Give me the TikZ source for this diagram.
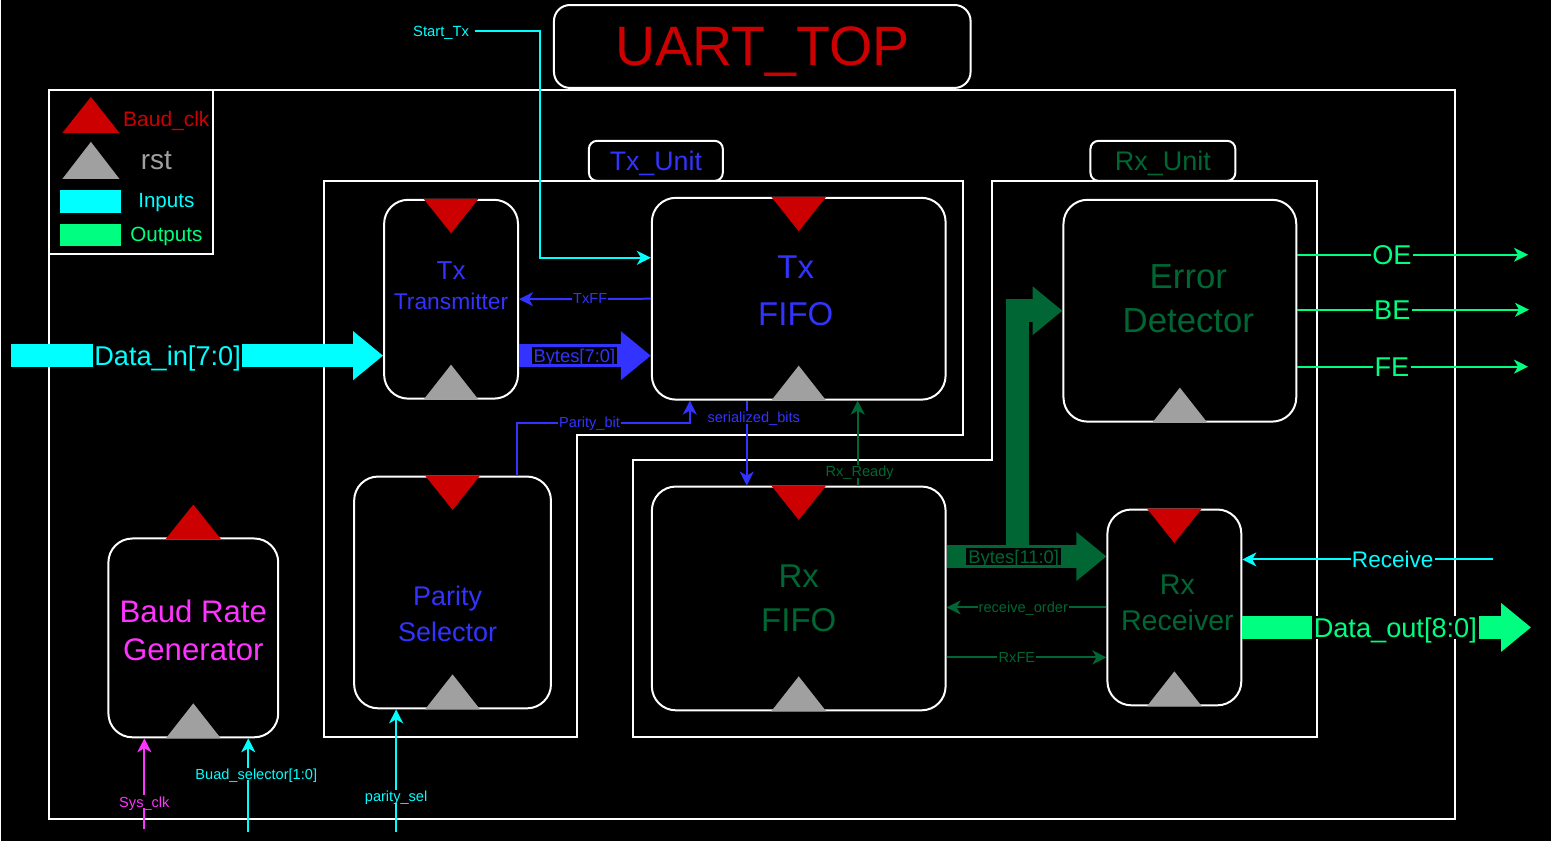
\documentclass[tikz,border=0pt]{standalone}
\usepackage{fontspec}
\setmainfont{Liberation Sans}
\usetikzlibrary{arrows.meta, calc, positioning}
\definecolor{clkred}{RGB}{204,0,0}
\definecolor{rstgrey}{RGB}{160,160,160}
\definecolor{incyan}{RGB}{0,255,255}
\definecolor{outgreen}{RGB}{0,255,128}
\definecolor{txblue}{RGB}{51,51,255}
\definecolor{rxgreen}{RGB}{0,102,51}
\definecolor{sysmag}{RGB}{255,51,255}
\tikzset{
  block/.style={draw=white, line width=1pt, rounded corners=12pt, fill=black, inner sep=0pt},
  tab/.style={draw=white, line width=1pt, rounded corners=4pt, fill=black, inner sep=0pt, minimum height=20pt, text depth=0pt},
  unitbox/.style={draw=white, line width=1pt},
  sig/.style={line width=1pt, -{Stealth[length=7pt, width=7pt, inset=2pt]}},
  bus/.style={line width=11.5pt, line join=miter, -{Triangle[length=15pt, width=23.5pt]}},
  siglbl/.style={fill=black, inner sep=0.6pt, text depth=0pt, font=\fontsize{7.3}{9}\selectfont},
  buslbl/.style={fill=black, inner sep=1pt, text depth=0pt, font=\fontsize{9.2}{11}\selectfont},
  biglbl/.style={fill=black, inner sep=0.8pt, text depth=0pt, font=\fontsize{13.6}{16}\selectfont},
  legtext/.style={text depth=0pt},
}

\begin{document}
\begin{tikzpicture}[x=0.5pt, y=-0.5pt]
    % background and frames
    \fill[black] (0,0) rectangle (1551,842);
    \draw[unitbox] (48,90) rectangle (1455,820);
    \draw[unitbox] (48,90) rectangle (212,254);
    \draw[unitbox] (323,181) -- (962,181) -- (962,435) -- (576,435) -- (576,738) -- (323,738) -- cycle;
    \draw[unitbox] (991,181) -- (1317,181) -- (1317,738) -- (632,738) -- (632,460) -- (991,460) -- cycle;

    % title and unit tabs
    \node (top) [block, rounded corners=8pt, minimum width=208.5pt, minimum height=41.5pt, text depth=0pt, text=clkred, font=\fontsize{27.8}{32}\selectfont] at (761.5,46.5) {UART\_TOP};
    \node (txtab) [tab, minimum width=67pt, text=txblue, font=\fontsize{13.4}{16}\selectfont] at (655,161) {Tx\_Unit};
    \node (rxtab) [tab, minimum width=72.5pt, text=rxgreen, font=\fontsize{13.5}{16}\selectfont] at (1162.5,161) {Rx\_Unit};

    % legend
    \fill[clkred] (61,133) -- (118,133) -- (89.5,97) -- cycle;
    \fill[rstgrey] (61,179) -- (118,179) -- (89.5,142) -- cycle;
    \fill[incyan] (59,190) rectangle (120,213);
    \fill[outgreen] (59,224) rectangle (120,246);
    \node (lgclk) [legtext, text=clkred, font=\fontsize{10.5}{12}\selectfont] at (165,119) {Baud\_clk};
    \node (lgrst) [legtext, text=rstgrey, font=\fontsize{14}{16}\selectfont] at (155,161) {rst};
    \node (lgin) [legtext, text=incyan, font=\fontsize{10.3}{12}\selectfont] at (165,201) {Inputs};
    \node (lgout) [legtext, text=outgreen, font=\fontsize{10.3}{12}\selectfont] at (165,235) {Outputs};

    % blocks
    \node (txm) [block, minimum width=67pt, minimum height=99.5pt] at (450,299.5) {};
    \node (txf) [block, minimum width=147pt, minimum height=101pt] at (798,299) {};
    \node (par) [block, minimum width=98.5pt, minimum height=116pt] at (451.5,593) {};
    \node (brg) [block, minimum width=85pt, minimum height=99.5pt] at (192,638.5) {};
    \node (rxf) [block, minimum width=147pt, minimum height=112pt] at (798,599) {};
    \node (err) [block, minimum width=116.5pt, minimum height=111pt] at (1179.5,311) {};
    \node (rxr) [block, minimum width=67pt, minimum height=98pt] at (1174,608) {};

    % clock and reset marks
    \foreach \n in {txm,txf,par,rxf,rxr}
        \fill[clkred] ($(\n.north)+(-27.5,0)$) -- ($(\n.north)+(27.5,0)$) -- ($(\n.north)+(0,34.5)$) -- cycle;
    \foreach \n in {txm,txf,par,brg,rxf,err,rxr}
        \fill[rstgrey] ($(\n.south)+(-27.5,0)$) -- ($(\n.south)+(27.5,0)$) -- ($(\n.south)+(0,-35)$) -- cycle;
    \fill[clkred] ($(brg.north)+(-28,2)$) -- ($(brg.north)+(28,2)$) -- ($(brg.north)+(0,-33)$) -- cycle;

    % block texts
    \node (txmtxt) [align=center, text=txblue, font=\fontsize{11.4}{15}\selectfont] at ($(txm.center)+(0,-13.5)$) {{\fontsize{13}{15}\selectfont Tx}\\Transmitter};
    \node (txftxt) [align=center, text=txblue, font=\fontsize{16.5}{23.5}\selectfont] at ($(txf.center)+(-3,-8)$) {Tx\\FIFO};
    \node (partxt) [align=center, text=txblue, font=\fontsize{13.5}{18}\selectfont] at ($(par.center)+(-5,21)$) {Parity\\Selector};
    \node (brgtxt) [align=center, text=sysmag, font=\fontsize{15.6}{19}\selectfont] at ($(brg.center)+(0,-8)$) {Baud Rate\\Generator};
    \node (rxftxt) [align=center, text=rxgreen, font=\fontsize{16.5}{22}\selectfont] at ($(rxf.center)+(0,0)$) {Rx\\FIFO};
    \node (errtxt) [align=center, text=rxgreen, font=\fontsize{17.4}{22}\selectfont] at ($(err.center)+(8.5,-12)$) {Error\\Detector};
    \node (rxrtxt) [align=center, text=rxgreen, font=\fontsize{14.3}{18}\selectfont] at ($(rxr.center)+(3,-5)$) {Rx\\Receiver};

    % wide buses
    \coordinate (din) at (10,356);
    \coordinate (dout) at (1531,628);
    \draw[bus, incyan] (din) -- node[biglbl, text=incyan, pos=0.42] {Data\_in[7:0]} (din -| txm.west);
    \draw[bus, txblue] ($(txm.east)+(0,56.5)$) -- node[buslbl, text=txblue, pos=0.42] {Bytes[7:0]} ($(txf.west)+(0,57)$);
    \draw[bus, rxgreen] ($(rxf.east)+(71,-52)$) |- (err.west);
    \draw[bus, rxgreen] ($(rxf.east)+(0,-42)$) -- node[buslbl, text=rxgreen, pos=0.42] {Bytes[11:0]} ($(rxr.west)+(0,-51)$);
    \draw[bus, outgreen] (dout -| rxr.east) -- node[biglbl, text=outgreen, pos=0.53] {Data\_out[8:0]} (dout);

    % Tx side signals
    \node (starttx) [text=incyan, inner sep=0.6pt, text depth=0pt, font=\fontsize{7.4}{9}\selectfont] at (440,31) {Start\_Tx};
    \draw[sig, incyan] ([xshift=2pt]starttx.east) -- ++(65,0) |- ($(txf.west)+(0,-41)$);
    \draw[sig, txblue] (txf.west) -- node[siglbl, text=txblue, pos=0.46] {TxFF} (txm.east);
    \draw[sig, txblue] ($(par.north)+(64.5,0)$) |- node[siglbl, text=txblue, pos=0.71] {Parity\_bit} ($(txf.south)+(-109,22)$) -- ($(txf.south)+(-109,0)$);
    \draw[sig, txblue] ($(txf.south)+(-52,0)$) -- node[siglbl, text=txblue, pos=0.2, xshift=3.5pt] {serialized\_bits} ($(rxf.north)+(-52,0)$);
    \draw[sig, rxgreen] ($(rxf.north)+(59,0)$) -- node[siglbl, text=rxgreen, pos=0.17, xshift=1pt] {Rx\_Ready} ($(txf.south)+(59,0)$);

    % Rx side signals
    \draw[sig, rxgreen] (rxr.west) -- node[siglbl, text=rxgreen, pos=0.52] {receive\_order} (rxr.west -| rxf.east);
    \draw[sig, rxgreen] ($(rxf.east)+(0,59)$) -- node[siglbl, text=rxgreen, pos=0.44] {RxFE} ($(rxr.west)+(0,50)$);
    \coordinate (rcv) at (1493,560);
    \draw[sig, incyan] (rcv) -- node[siglbl, text=incyan, font=\fontsize{11.3}{13}\selectfont, pos=0.4] {Receive} (rcv -| rxr.east);
    \draw[sig, outgreen] ($(err.east)+(0,-56)$) -- node[biglbl, text=outgreen, pos=0.41] {OE} ++(231,0);
    \draw[sig, outgreen] ($(err.east)+(0,-1)$) -- node[biglbl, text=outgreen, pos=0.41] {BE} ++(232,0);
    \draw[sig, outgreen] ($(err.east)+(0,56)$) -- node[biglbl, text=outgreen, pos=0.41] {FE} ++(231,0);

    % bottom inputs
    \coordinate (sysclk) at (143,830);
    \coordinate (bsel) at (247,833);
    \coordinate (psel) at (395,833);
    \draw[sig, sysmag] (sysclk) -- node[siglbl, text=sysmag, pos=0.3] {Sys\_clk} (sysclk |- brg.south);
    \draw[sig, incyan] (bsel) -- node[siglbl, text=incyan, pos=0.62, xshift=4pt] {Buad\_selector[1:0]} (bsel |- brg.south);
    \draw[sig, incyan] (psel) -- node[siglbl, text=incyan, pos=0.29] {parity\_sel} (psel |- par.south);
\end{tikzpicture}
\end{document}
